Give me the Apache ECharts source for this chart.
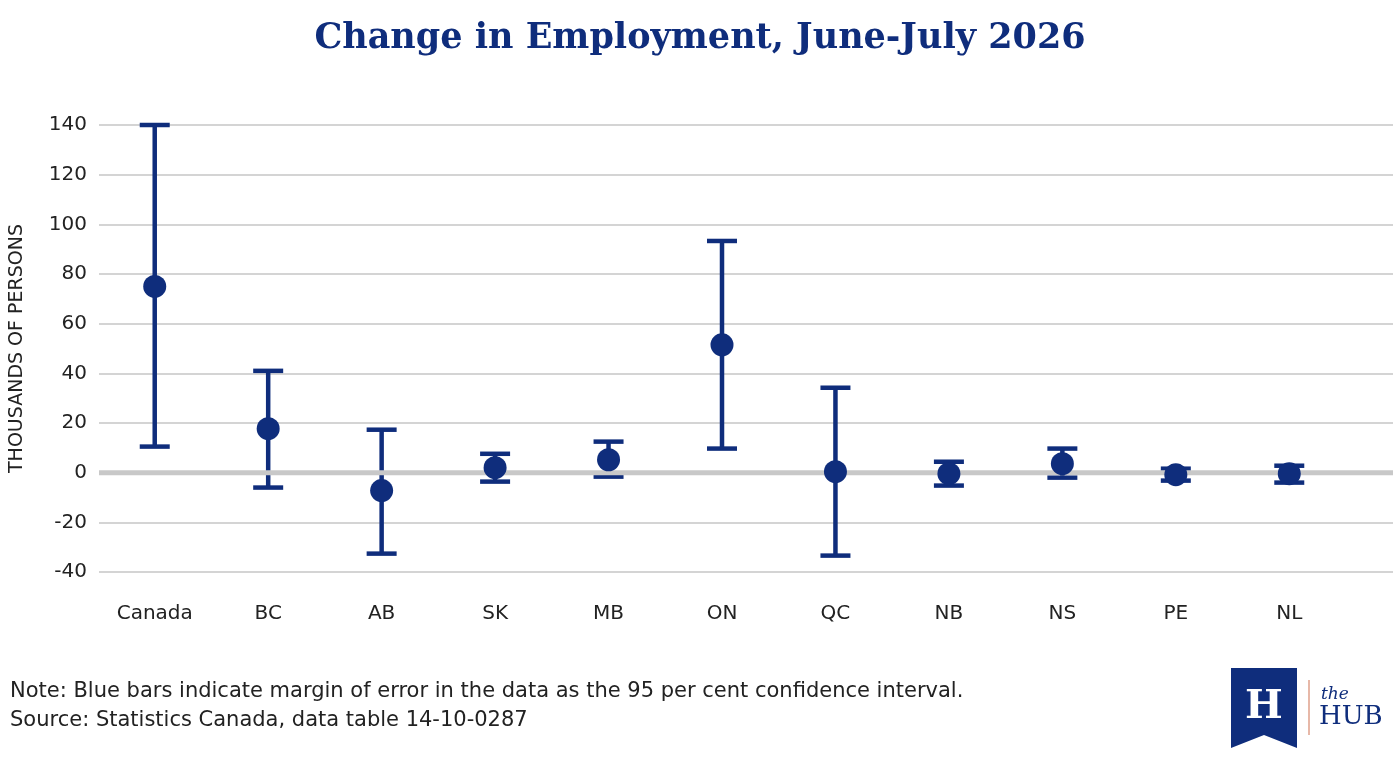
<!DOCTYPE html>
<html><head><meta charset="utf-8">
<script src="https://cdn.jsdelivr.net/npm/echarts@6/dist/echarts.min.js"></script>
<style>html,body{margin:0;background:#fff}#c{width:1400px;height:769px}</style>
</head><body><div id="c"></div>
<script>
const regions = ['Canada','BC','AB','SK','MB','ON','QC','NB','NS','PE','NL'];
const estimate = [75, 17.7, -7.2, 2, 5.2, 51.5, 0.4, -0.4, 3.6, -0.8, -0.4];
const upper = [140, 41, 17.3, 7.6, 12.5, 93.3, 34.2, 4.4, 9.7, 1.6, 2.8];
const lower = [10.5, -6, -32.6, -3.6, -1.6, 9.7, -33.4, -5.2, -2, -3.2, -4];
const navy = '#0f2d7c';
const sans = 'DejaVu Sans';

const chart = echarts.init(document.getElementById('c'));
chart.setOption({
  animation: false,
  title: {
    text: 'Change in Employment, June-July 2026', left: 'center', top: 16,
    textStyle: { fontFamily: 'DejaVu Serif', fontWeight: 'bold', fontSize: 35, color: navy }
  },
  grid: [
    { left: 98, width: 1248, top: 125, bottom: 197 },
    { left: 98, right: 7, top: 125, bottom: 197 }
  ],
  xAxis: [
    { type: 'category', data: regions, gridIndex: 0,
      axisLine: { show: false }, axisTick: { show: false },
      axisLabel: { margin: 32, fontSize: 20, color: '#222', fontFamily: sans } },
    { type: 'value', gridIndex: 1, show: false, min: 0, max: 1 }
  ],
  yAxis: [
    { type: 'value', gridIndex: 0, min: -40, max: 140, interval: 20, show: false },
    { type: 'value', gridIndex: 1, min: -40, max: 140, interval: 20,
      name: 'THOUSANDS OF PERSONS', nameLocation: 'middle', nameGap: 72,
      nameTextStyle: { fontSize: 19, color: '#222', fontFamily: sans },
      axisLine: { show: false }, axisTick: { show: false },
      axisLabel: { fontSize: 20, color: '#222', margin: 12, fontFamily: sans },
      splitLine: { lineStyle: { color: '#d4d4d4', width: 2 } } }
  ],
  series: [
    { type: 'line', xAxisIndex: 1, yAxisIndex: 1, data: [[0, 0], [1, 0]], symbol: 'none',
      lineStyle: { color: '#c8c8c8', width: 5 }, silent: true },
    { type: 'custom', xAxisIndex: 0, yAxisIndex: 0,
      data: regions.map((r, i) => [i, lower[i], upper[i]]),
      renderItem: (params, api) => {
        const lo = api.coord([api.value(0), api.value(1)]);
        const hi = api.coord([api.value(0), api.value(2)]);
        const w = 15, st = { stroke: navy, lineWidth: 4.5 };
        return { type: 'group', children: [
          { type: 'line', shape: { x1: lo[0], y1: lo[1], x2: hi[0], y2: hi[1] }, style: st },
          { type: 'line', shape: { x1: lo[0] - w, y1: lo[1], x2: lo[0] + w, y2: lo[1] }, style: st },
          { type: 'line', shape: { x1: hi[0] - w, y1: hi[1], x2: hi[0] + w, y2: hi[1] }, style: st }
        ] };
      }
    },
    { type: 'scatter', xAxisIndex: 0, yAxisIndex: 0, data: estimate, symbolSize: 23,
      itemStyle: { color: navy, opacity: 1 }, z: 5 }
  ],
  graphic: [
    { type: 'text', left: 10, top: 677, style: {
      text: 'Note: Blue bars indicate margin of error in the data as the 95 per cent confidence interval.\nSource: Statistics Canada, data table 14-10-0287',
      fontSize: 21, lineHeight: 29, fill: '#222', fontFamily: sans } },
    { type: 'polygon', shape: { points: [[1231, 668], [1297, 668], [1297, 748], [1264, 735], [1231, 748]] },
      style: { fill: navy } },
    { type: 'text', x: 1264, y: 708, style: { text: 'H', fontSize: 40, fontFamily: 'DejaVu Serif', fontWeight: 'bold',
      fill: '#fff', align: 'center', verticalAlign: 'middle' } },
    { type: 'line', shape: { x1: 1309, y1: 680, x2: 1309, y2: 735 }, style: { stroke: '#e7b8a8', lineWidth: 2 } },
    { type: 'text', x: 1321, y: 686, style: { text: 'the', fontSize: 17, fontStyle: 'italic', fontFamily: 'DejaVu Serif', fill: navy } },
    { type: 'text', x: 1319, y: 704, style: { text: 'HUB', fontSize: 26, fontFamily: 'DejaVu Serif', fill: navy } }
  ]
});
</script></body></html>
